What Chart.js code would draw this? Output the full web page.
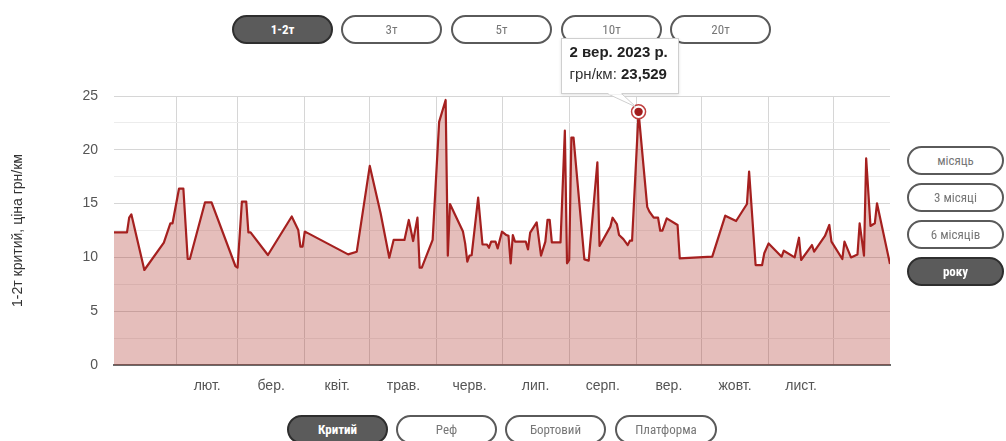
<!DOCTYPE html>
<html>
<head>
<meta charset="utf-8">
<script src="https://cdn.jsdelivr.net/npm/chart.js@4.4.0/dist/chart.umd.min.js"></script>
<style>
html,body{margin:0;padding:0;background:#fff;width:1006px;height:441px;overflow:hidden;}
body{position:relative;font-family:"Liberation Sans",Arial,sans-serif;}
#c{position:absolute;left:0;top:0;}
.btn{position:absolute;box-sizing:border-box;height:29px;width:101px;border:2px solid #5a5a5a;border-radius:15px;background:#fff;color:#777;
 font-family:"Liberation Sans Narrow","Roboto Condensed","Roboto",sans-serif;font-size:13px;line-height:25px;text-align:center;white-space:nowrap;}
.btn.on{background:#5b5b5b;color:#fff;border-color:#2e2e2e;font-weight:bold;}
#tip{position:absolute;display:none;box-sizing:border-box;width:118px;height:56px;background:#fff;border:1px solid #cfcfcf;
 box-shadow:0 1px 3px rgba(0,0,0,0.12);z-index:10;font-family:"Liberation Sans",Arial,sans-serif;font-size:15px;color:#222;}
#tip .t1{position:absolute;left:8px;top:4px;font-weight:bold;white-space:nowrap;}
#tip .t2{position:absolute;left:8px;top:26px;white-space:nowrap;color:#333;}
#tip .t2 b{color:#222;}
#tip svg{position:absolute;left:0;top:0;overflow:visible;}
</style>
</head>
<body>
<canvas id="c" width="1006" height="441"></canvas>

<div class="btn on" style="left:232px;top:15px;">1-2т</div>
<div class="btn" style="left:341px;top:15px;">3т</div>
<div class="btn" style="left:451px;top:15px;">5т</div>
<div class="btn" style="left:561px;top:15px;">10т</div>
<div class="btn" style="left:670px;top:15px;">20т</div>

<div class="btn" style="left:907px;top:146px;width:97px;">місяць</div>
<div class="btn" style="left:907px;top:183px;width:97px;">3 місяці</div>
<div class="btn" style="left:907px;top:220px;width:97px;">6 місяців</div>
<div class="btn on" style="left:907px;top:257px;width:97px;">року</div>

<div class="btn on" style="left:287px;top:415px;">Критий</div>
<div class="btn" style="left:396px;top:415px;">Реф</div>
<div class="btn" style="left:505px;top:415px;">Бортовий</div>
<div class="btn" style="left:615px;top:415px;width:102px;">Платформа</div>

<div id="tip"><div class="t1"></div><div class="t2"><span class="lab"></span>: <b class="val"></b></div>
<svg width="1" height="1"><polygon points="46,55 74,68 60,55" fill="#fff" stroke="#cfcfcf" stroke-width="1"/><rect x="46.5" y="53" width="13" height="2.5" fill="#fff"/></svg></div>

<script>
// ---- data ----
const dates = [
'2023-01-03','2023-01-09','2023-01-10','2023-01-11','2023-01-17','2023-01-26','2023-01-29','2023-01-30',
'2023-02-02','2023-02-04','2023-02-06','2023-02-07','2023-02-14','2023-02-17','2023-02-28',
'2023-03-01','2023-03-03','2023-03-05','2023-03-06','2023-03-07','2023-03-15','2023-03-26','2023-03-29','2023-03-30','2023-03-31',
'2023-04-01','2023-04-02','2023-04-21','2023-04-25',
'2023-05-01','2023-05-06','2023-05-10','2023-05-12','2023-05-17','2023-05-19','2023-05-21','2023-05-23','2023-05-24','2023-05-25','2023-05-30',
'2023-06-02','2023-06-05','2023-06-06','2023-06-07','2023-06-13','2023-06-14','2023-06-15','2023-06-16','2023-06-17','2023-06-20',
'2023-06-22','2023-06-24','2023-06-25','2023-06-26','2023-06-28','2023-06-29',
'2023-07-01','2023-07-03','2023-07-04','2023-07-05','2023-07-06','2023-07-07','2023-07-12','2023-07-13','2023-07-14','2023-07-17',
'2023-07-19','2023-07-21','2023-07-22','2023-07-23','2023-07-24','2023-07-28','2023-07-30','2023-07-31',
'2023-08-01','2023-08-02','2023-08-03','2023-08-08','2023-08-10','2023-08-14','2023-08-15','2023-08-20','2023-08-21','2023-08-23',
'2023-08-24','2023-08-26','2023-08-28','2023-08-29','2023-08-30',
'2023-09-02','2023-09-06','2023-09-07','2023-09-09','2023-09-11','2023-09-12','2023-09-13','2023-09-15','2023-09-20','2023-09-21',
'2023-10-06','2023-10-12','2023-10-17','2023-10-22','2023-10-23','2023-10-26','2023-10-29','2023-10-30',
'2023-11-01','2023-11-07','2023-11-08','2023-11-13','2023-11-15','2023-11-16','2023-11-21','2023-11-22','2023-11-27','2023-11-29','2023-11-30',
'2023-12-05','2023-12-06','2023-12-09','2023-12-12','2023-12-13','2023-12-15','2023-12-16','2023-12-18','2023-12-20','2023-12-21','2023-12-27'
];
const prices = [
12.33,12.33,13.7,14.0,8.83,11.37,13.17,13.17,
16.4,16.4,9.85,9.85,15.12,15.12,9.2,
9.05,15.18,15.18,12.33,12.33,10.22,13.8,12.55,11.0,11.0,
12.4,12.3,10.28,10.53,
18.5,14.1,9.97,11.62,11.62,13.48,11.52,13.69,9.05,9.05,11.62,
22.6,24.63,10.16,14.96,12.4,11.3,9.6,10.16,10.2,15.55,
11.2,11.2,10.9,11.46,11.46,10.84,
12.4,12.08,12.0,9.45,12.08,11.46,11.46,10.75,12.3,13.26,
10.16,11.46,13.48,13.48,11.4,11.4,21.78,9.45,
9.76,21.13,21.13,9.82,9.7,18.84,11.06,12.86,13.69,13.1,
12.08,11.7,11.15,11.55,11.55,
23.529,14.7,14.25,13.69,13.69,12.48,12.48,13.63,13.01,9.91,
10.07,13.88,13.38,14.96,17.97,9.29,9.29,10.38,
11.3,10.07,10.62,10.0,11.83,9.76,11.15,10.53,11.99,13.01,11.46,
9.85,11.46,10.0,10.28,13.17,10.16,19.2,12.92,13.17,15.03,9.38
];
const gridMonthStarts = ['2023-02-01','2023-03-01','2023-04-01','2023-05-01','2023-06-01','2023-07-01','2023-08-01','2023-09-01','2023-10-01','2023-11-01','2023-12-01'];
const monthTickLabels = ['лют.','бер.','квіт.','трав.','черв.','лип.','серп.','вер.','жовт.','лист.'];
const monthAbbr = ['січ.','лют.','бер.','квіт.','трав.','черв.','лип.','серп.','вер.','жовт.','лист.','груд.'];
const yAxisTitle = '1-2т критий, ціна грн/км';
const seriesLabel = 'грн/км';
const activeDate = '2023-09-02';

// ---- helpers ----
const BASE = Date.UTC(2023,0,1);
function toDay(s){ const p=s.split('-').map(Number); return (Date.UTC(p[0],p[1]-1,p[2])-BASE)/864e5; }
function fmtDate(s){ const p=s.split('-').map(Number); return p[2]+' '+monthAbbr[p[1]-1]+' '+p[0]+' р.'; }
function fmtNum(v){ return String(v).replace('.', ','); }

const points = dates.map((d,i)=>({x:toDay(d), y:prices[i]}));
const xMin = toDay(dates[0]), xMax = toDay(dates[dates.length-1]);
const gridTicks = gridMonthStarts.map(toDay);
const labelTicks = monthTickLabels.map((l,i)=>(gridTicks[i]+gridTicks[i+1])/2);

function externalTooltip(context){
  const {chart, tooltip} = context;
  const el = document.getElementById('tip');
  if (!tooltip || tooltip.opacity === 0 || !tooltip.dataPoints || !tooltip.dataPoints.length){ el.style.display='none'; return; }
  const i = tooltip.dataPoints[0].dataIndex;
  el.querySelector('.t1').textContent = fmtDate(dates[i]);
  el.querySelector('.lab').textContent = seriesLabel;
  el.querySelector('.val').textContent = fmtNum(prices[i]);
  const cx = chart.canvas.offsetLeft + tooltip.caretX;
  const cy = chart.canvas.offsetTop + tooltip.caretY;
  el.style.left = (cx - 78) + 'px';
  el.style.top = (cy - 74) + 'px';
  el.style.display = 'block';
}

const activeRing = {
  id:'activeRing',
  afterDatasetsDraw(chart){
    const ctx = chart.ctx;
    chart.getActiveElements().forEach(a=>{
      const el = chart.getDatasetMeta(a.datasetIndex).data[a.index];
      ctx.save();
      ctx.beginPath(); ctx.arc(el.x, el.y, 7, 0, Math.PI*2);
      ctx.fillStyle='#fff'; ctx.fill();
      ctx.lineWidth=1.5; ctx.strokeStyle='#c04040'; ctx.stroke();
      ctx.beginPath(); ctx.arc(el.x, el.y, 4.2, 0, Math.PI*2);
      ctx.fillStyle='#a11c1c'; ctx.fill();
      ctx.restore();
    });
  }
};

Chart.defaults.font.family = '"Liberation Sans", Arial, sans-serif';
Chart.defaults.color = '#555';

const chart = new Chart(document.getElementById('c'), {
  type:'line',
  data:{ datasets:[{
    label: seriesLabel,
    data: points,
    xAxisID:'x', yAxisID:'y',
    borderColor:'#a5201f',
    borderWidth:2.2,
    borderJoinStyle:'round',
    backgroundColor:'rgba(170,40,30,0.3)',
    fill:'origin',
    tension:0,
    pointRadius:0,
    pointHoverRadius:0,
    pointHitRadius:0
  }]},
  options:{
    responsive:false,
    animation:false,
    events:[],
    layout:{ padding:{ left:0, top:96, right:116, bottom:46 } },
    plugins:{
      legend:{ display:false },
      title:{ display:false },
      tooltip:{ enabled:false, external: externalTooltip, mode:'nearest', intersect:false }
    },
    scales:{
      x:{
        type:'linear', position:'bottom', min:xMin, max:xMax,
        afterBuildTicks(s){ s.ticks = gridTicks.map(v=>({value:v})); },
        afterFit(s){ s.height = 0; },
        ticks:{ display:false },
        grid:{ color:'#d6d6d6', lineWidth:1, drawTicks:false },
        border:{ display:true, color:'#6a6a6a', width:2 }
      },
      xl:{
        type:'linear', position:'bottom', min:xMin, max:xMax,
        afterBuildTicks(s){ s.ticks = labelTicks.map(v=>({value:v})); },
        afterFit(s){ s.height = 30; },
        ticks:{ autoSkip:false, maxRotation:0, padding:13, color:'#555', font:{size:14},
          callback(v, i){ return monthTickLabels[i]; } },
        grid:{ display:false, drawTicks:false },
        border:{ display:false }
      },
      y:{
        min:0, max:25,
        afterFit(s){ s.width = 114; },
        ticks:{ stepSize:2.5, padding:16, color:'#555', font:{size:14},
          callback(v){ return (v % 5 === 0) ? v : ''; } },
        grid:{ drawTicks:false, lineWidth:1,
          color(ctx){ return (ctx.tick && ctx.tick.value % 5 === 0) ? '#d6d6d6' : '#ececec'; } },
        border:{ display:false },
        title:{ display:true, text:yAxisTitle, color:'#333', font:{size:14}, padding:{top:10, bottom:0} }
      }
    }
  },
  plugins:[activeRing]
});

const idx = dates.indexOf(activeDate);
const act = [{datasetIndex:0, index:idx}];
chart.setActiveElements(act);
const pel = chart.getDatasetMeta(0).data[idx];
chart.tooltip.setActiveElements(act, {x:pel.x, y:pel.y});
chart.draw();
</script>
</body>
</html>
